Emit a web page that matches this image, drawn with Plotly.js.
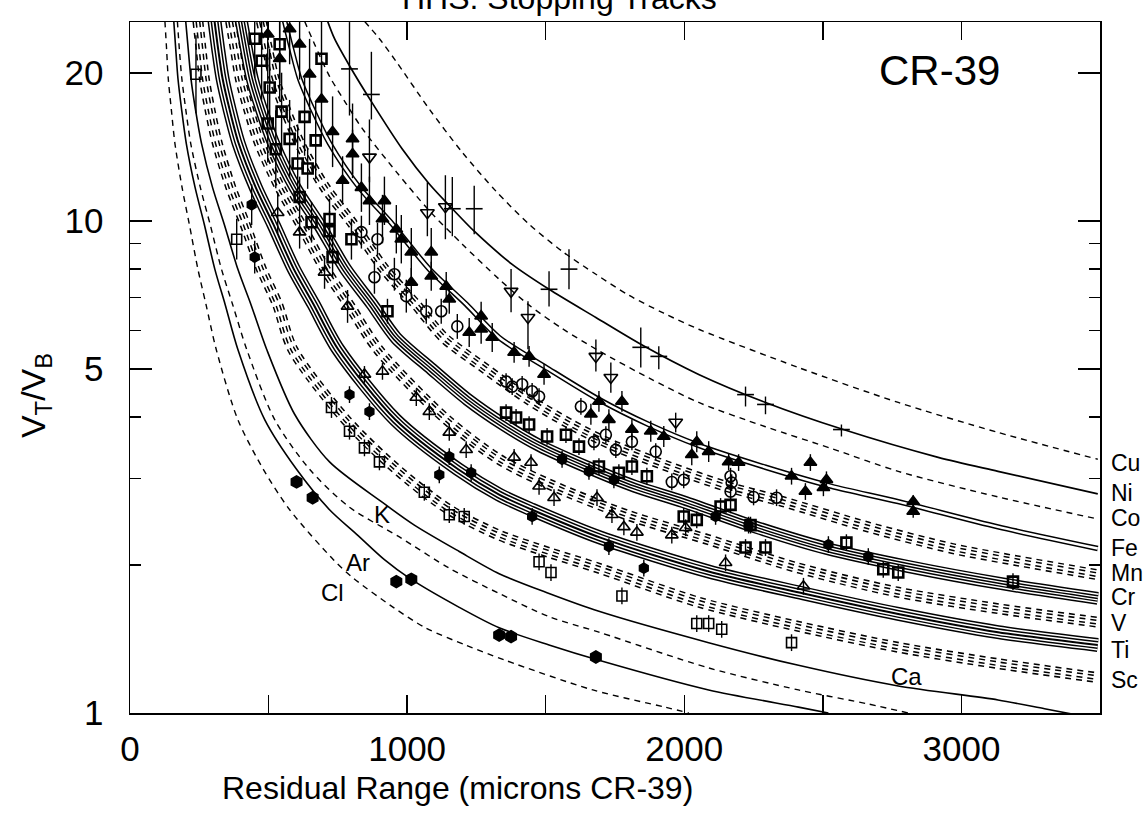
<!DOCTYPE html>
<html>
<head>
<meta charset="utf-8">
<script src="https://cdn.plot.ly/plotly-3.0.1.min.js"></script>
<style>html,body{margin:0;padding:0;background:#fff;}#chart{width:1143px;height:813px;}</style>
</head>
<body>
<div id="chart"></div>
<script>
// ---------------- model curves (Residual range in microns, VT/VB) ----------------
const clX = [126,132,138,149,162,188,214,245,274,311,389,481,576,734,806,950,1066,1210,1354,1670,1930,2016];
const clY = [25.5,22.4,19.5,16.9,14.4,11.7,9.86,7.99,6.78,5.49,3.95,3.13,2.59,2.05,1.88,1.64,1.49,1.375,1.28,1.114,1.028,1.0];
const arX = [158,165,173,186,203,235,268,306,343,389,486,601,720,821,918,1008,1188,1332,1512,1692,2088,2412,2520];
const arY = [25.5,22.4,19.5,16.9,14.4,11.7,9.86,7.99,6.78,5.49,3.95,3.13,2.59,2.30,2.05,1.88,1.64,1.49,1.375,1.28,1.114,1.028,1.0];
const kX = [171,178,187,201,219,254,289,330,370,421,522,648,792,972,1152,1332,1512,1692,2088,2412,2664,2808];
const kY = [25.5,22.4,19.5,16.9,14.4,11.7,9.86,7.99,6.78,5.49,3.95,3.13,2.62,2.28,1.97,1.75,1.57,1.46,1.235,1.114,1.043,1.0];
const caX = [201,210,220,236,258,298,340,389,436,493,594,720,911,1026,1188,1332,1512,1692,2088,2412,2772,3132,3300,3420];
const caY = [25.5,22.4,19.5,16.9,14.4,11.7,9.86,7.99,6.78,5.49,4.05,3.24,2.68,2.41,2.13,1.92,1.75,1.61,1.39,1.25,1.135,1.063,1.02,0.99];
const scX = [245,256,268,288,315,364,415,474,532,587,778,962,1152,1332,1512,1692,2052,2412,2772,3132,3492];
const scY = [25.5,22.4,19.5,16.9,14.4,11.7,9.86,7.99,6.78,5.49,3.95,3.13,2.59,2.30,2.12,1.97,1.68,1.50,1.36,1.26,1.18];
const tiX = [305,318,334,359,392,454,517,591,662,751,957,1184,1332,1451,1700,2088,2430,2772,3132,3492];
const tiY = [25.5,22.4,19.5,16.9,14.4,11.7,9.86,7.99,6.78,5.49,3.95,3.13,2.78,2.59,2.27,1.94,1.75,1.59,1.46,1.375];
const vX = [363,380,398,428,467,541,616,704,789,895,1142,1332,1512,1800,2088,2400,2772,3132,3492];
const vY = [25.5,22.4,19.5,16.9,14.4,11.7,9.86,7.99,6.78,5.49,3.95,3.28,2.92,2.52,2.25,1.98,1.76,1.63,1.53];
const crX = [402,420,441,474,518,596,682,778,873,959,1089,1218,1348,1477,1651,1822,1996,2255,2514,2800,3150,3492];
const crY = [25.5,22.4,19.5,16.9,14.4,11.7,9.86,7.99,6.78,5.80,5.00,4.34,3.86,3.50,3.16,2.89,2.69,2.39,2.16,1.99,1.83,1.71];
const mnX = [474,496,520,560,612,704,805,918,1031,1132,1285,1438,1591,1744,1949,2151,2356,2662,2968,3200,3492];
const mnY = [25.5,22.4,19.5,16.9,14.4,11.7,9.86,7.99,6.78,5.80,5.00,4.34,3.86,3.50,3.16,2.89,2.69,2.39,2.16,2.04,1.91];
const feX = [558,583,612,659,720,828,947,1080,1213,1332,1512,1692,1872,2052,2293,2531,2772,3132,3492];
const feY = [25.5,22.4,19.5,16.9,14.4,11.7,9.86,7.99,6.78,5.80,5.00,4.34,3.86,3.50,3.16,2.89,2.69,2.39,2.16];
const coX = [630,666,720,781,839,961,1080,1199,1332,1440,1559,1692,1872,2052,2293,2531,2772,3132,3492];
const coY = [25.5,22.9,19.7,17.3,15.4,12.6,10.5,8.98,7.62,6.75,6.05,5.45,4.80,4.28,3.82,3.45,3.10,2.75,2.48];
const niX = [713,738,792,871,983,1080,1163,1242,1379,1512,1681,1843,2052,2293,2574,2916,3132,3492];
const niY = [25.5,23.5,20.7,17.5,14.0,11.9,10.6,9.54,8.17,7.27,6.37,5.62,4.88,4.28,3.77,3.31,3.10,2.79];
const cuX = [846,900,961,1080,1199,1321,1440,1559,1681,1800,1926,2052,2412,2772,3132,3492];
const cuY = [25.5,23.5,21.1,16.9,13.8,11.5,9.86,8.69,7.80,7.07,6.50,6.03,5.04,4.28,3.72,3.28];

// ---------------- measured tracks ----------------
// "+" markers
const plusX = [792,871,1163,1242,1512,1584,1843,1908,2221,2293,2567];
const plusY = [20.4,18.1,10.6,10.6,7.27,7.99,5.54,5.31,4.44,4.24,3.77];
const plusHi = [25.4,22.1,12.3,11.8,7.91,8.77,6.08,5.57,4.61,4.40,3.86];
const plusLo = [16.4,16.1,9.32,9.41,6.71,7.27,5.04,5.00,4.20,4.05,3.65];
// open inverted triangles
const tdX = [864,1073,1138,1375,1436,1681,1735,1969];
const tdY = [13.5,10.4,10.7,7.20,6.37,5.31,4.81,3.90];
const tdHi = [16.1,12.0,12.4,7.99,6.87,5.75,5.16,4.08];
const tdLo = [12.0,9.32,9.19,6.53,5.49,4.95,4.48,3.72];
// filled triangles
const ftX = [497,540,576,612,648,691,731,803,803,767,835,864,918,911,961,979,1015,1015,1087,1087,1141,1152,1224,1267,1267,1307,1386,1440,1494,1663,1692,1728,1775,1811,1879,1926,2027,2045,2088,2160,2196,2387,2437,2455,2502,2513,2826,2826];
const ftY = [24.0,21.4,24.6,22.9,19.9,17.7,15.2,14.7,13.7,12.1,11.7,11.0,11.0,10.1,9.63,9.19,8.65,7.51,8.65,7.73,7.37,6.94,5.94,6.41,6.03,5.80,5.41,5.31,4.88,4.05,4.30,3.95,4.30,3.77,3.74,3.65,3.35,3.56,3.40,3.24,3.23,3.03,2.82,3.23,2.87,2.98,2.69,2.57];
const ftErr = [0.25,0.22,0.18,0.18,0.18,0.18,0.18,0.18,0.12,0.12,0.12,0.12,0.12,0.12,0.12,0.12,0.12,0.07,0.12,0.07,0.07,0.07,0.07,0.07,0.07,0.07,0.05,0.05,0.05,0.05,0.05,0.05,0.05,0.05,0.05,0.05,0.05,0.05,0.05,0.04,0.04,0.04,0.04,0.04,0.04,0.04,0.03,0.03];
// open circles
const ocX = [835,893,882,954,997,1069,1123,1181,1357,1379,1415,1451,1476,1627,1674,1717,1753,1811,1897,1955,1998,2167,2171,2167,2250,2333];
const ocY = [9.50,9.19,7.69,7.80,7.04,6.56,6.56,6.11,4.72,4.61,4.66,4.51,4.40,4.20,3.56,3.68,3.43,3.56,3.40,2.95,2.98,3.03,2.94,2.82,2.75,2.74];
const ocErr = [0.08,0.08,0.08,0.08,0.08,0.06,0.06,0.06,0.04,0.04,0.04,0.04,0.04,0.04,0.04,0.04,0.04,0.04,0.04,0.04,0.04,0.04,0.04,0.04,0.04,0.04];
// half-filled squares
const hsX = [450,475,504,547,576,605,497,526,630,670,691,540,641,612,655,720,720,799,731,929,1357,1393,1440,1505,1573,1620,1692,1764,1811,1865,1998,2045,2131,2167,2239,2221,2293,2585,2718,2772,3186];
const hsY = [23.5,21.2,18.7,16.7,14.7,13.1,15.8,14.0,16.3,14.6,21.4,22.9,12.8,11.2,9.95,10.1,9.54,9.19,8.45,6.56,4.08,3.99,3.86,3.65,3.68,3.48,3.17,3.08,3.17,3.03,2.51,2.47,2.63,2.65,2.41,2.17,2.17,2.22,1.96,1.93,1.85];
const hsErr = [0.2,0.2,0.2,0.2,0.2,0.2,0.2,0.2,0.2,0.2,0.2,0.2,0.1,0.1,0.1,0.1,0.1,0.1,0.1,0.06,0.04,0.04,0.04,0.04,0.04,0.04,0.04,0.04,0.04,0.04,0.04,0.04,0.04,0.04,0.04,0.04,0.04,0.04,0.04,0.04,0.04];
// open triangles
const otX = [533,612,702,785,846,911,1033,1080,1152,1213,1386,1447,1476,1530,1685,1739,1782,1829,1955,2005,2149,2430];
const otY = [10.4,9.50,7.87,6.71,4.88,4.95,4.38,4.10,3.72,3.43,3.31,3.23,2.89,2.74,2.74,2.53,2.39,2.33,2.30,2.38,2.02,1.81];
const otErr = [0.1,0.08,0.08,0.08,0.04,0.04,0.04,0.04,0.04,0.04,0.04,0.04,0.04,0.04,0.04,0.04,0.04,0.04,0.04,0.04,0.04,0.04];
// open squares
const osX = [238,385,727,792,846,900,1062,1152,1206,1476,1519,1775,2045,2088,2135,2387];
const osY = [19.9,9.19,4.18,3.74,3.46,3.24,2.81,2.53,2.51,2.03,1.93,1.73,1.52,1.52,1.48,1.39];
const osErr = [0.2,0.1,0.05,0.04,0.04,0.04,0.04,0.04,0.04,0.04,0.04,0.04,0.04,0.04,0.04,0.04];
// filled hexagons (low charge)
const fhX = [601,659,961,1015,1332,1375,1681];
const fhY = [2.95,2.74,1.85,1.87,1.44,1.43,1.30];
// filled circles
const fcX = [439,450,792,864,1116,1152,1231,1451,1728,1854,1559,1656,1746,2113,2232,2520,2664];
const fcY = [10.8,8.45,4.44,4.10,3.05,3.32,3.08,2.51,2.18,1.97,3.28,3.10,2.98,2.51,2.41,2.20,2.08];
const fcErr = [0.1,0.08,0.04,0.04,0.04,0.04,0.04,0.04,0.04,0.04,0.04,0.04,0.04,0.04,0.04,0.04,0.04];

// ---------------- labels ----------------
const elemLabels = ['Cu','Ni','Co','Fe','Mn','Cr','V','Ti','Sc'];
const elemLabelLogY = [0.509,0.448,0.397,0.336,0.285,0.236,0.183,0.128,0.067];
const innerLabels = ['K','Ar','Cl','Ca'];
const innerLabelX = [911,821,731,2801];
const innerLabelLogY = [0.403,0.3055,0.2444,0.0733];
const xTickVals = [0,1000,2000,3000];
const xTickText = ['0','1000','2000','3000'];
const xMinorVals = [500,1500,2500,3500];
const yTickVals = [1,5,10,20];
const yTickText = ['1','5','10','20'];
const yMinorVals = [2,3,4,6,7,8,9];

// ---------------- drawing ----------------
const FONT = "'Liberation Sans Narrow','Liberation Sans',Arial,sans-serif";
const FONT2 = "'Liberation Sans',Arial,sans-serif";
const traces = [];
const DASH = '6px,5px';

function line(x, y, dashed, width, color) {
  traces.push({x: x, y: y, type: 'scatter', mode: 'lines', hoverinfo: 'skip', showlegend: false,
    line: {color: color || 'black', width: width, dash: dashed ? DASH : 'solid', shape: 'spline', smoothing: 0.8}});
}
function bundle(x, y, dashed, widths) {
  widths.forEach((w, i) => {
    const black = (i % 2 === 0);
    line(x, y, black ? dashed : false, w, black ? 'black' : 'white');
  });
}
line(clX, clY, true, 1.4);
line(arX, arY, false, 1.6);
line(kX, kY, true, 1.4);
line(caX, caY, false, 1.6);
bundle(scX, scY, true, [11, 8, 5, 2]);
bundle(tiX, tiY, false, [14, 11, 8, 5, 2]);
bundle(vX, vY, true, [11, 8, 5, 2]);
bundle(crX, crY, false, [13, 10, 7, 4, 1.5]);
bundle(mnX, mnY, true, [11, 8, 5, 2]);
bundle(feX, feY, false, [5.5, 2.5]);
line(coX, coY, true, 1.4);
line(niX, niY, false, 1.7);
line(cuX, cuY, true, 1.4);

function pts(x, y, symbol, size, plus, minus, lw) {
  const t = {x: x, y: y, type: 'scatter', mode: 'markers', hoverinfo: 'skip', showlegend: false, cliponaxis: true,
    marker: {symbol: symbol, size: size, color: 'black', line: {color: 'black', width: lw || 1.6}}};
  if (plus) {
    t.error_y = {type: 'data', symmetric: false, array: plus, arrayminus: minus, thickness: 1.4, width: 0, color: 'black'};
  }
  traces.push(t);
}
function relPlus(y, e) { return y.map((v, i) => v * e[i]); }
function relMinus(y, e) { return y.map((v, i) => v - v / (1 + e[i])); }

pts(hsX, hsY, 'square-open', 10, relPlus(hsY, hsErr), relMinus(hsY, hsErr), 2.6);
pts(ocX, ocY, 'circle-open', 11, relPlus(ocY, ocErr), relMinus(ocY, ocErr), 1.6);
pts(otX, otY, 'triangle-up-open', 11, relPlus(otY, otErr), relMinus(otY, otErr), 1.6);
pts(osX, osY, 'square-open', 10, relPlus(osY, osErr), relMinus(osY, osErr), 1.6);
pts(fcX, fcY, 'hexagon', 10, relPlus(fcY, fcErr), relMinus(fcY, fcErr));
pts(fhX, fhY, 'hexagon', 12, null, null);
pts(ftX, ftY, 'triangle-up', 11, relPlus(ftY, ftErr), relMinus(ftY, ftErr));
pts(tdX, tdY, 'triangle-down-open', 12, tdHi.map((v, i) => v - tdY[i]), tdLo.map((v, i) => tdY[i] - v), 1.6);
pts(plusX, plusY, 'line-ew', 12, plusHi.map((v, i) => v - plusY[i]), plusLo.map((v, i) => plusY[i] - v), 1.6);

const annotations = [];
elemLabels.forEach((t, i) => annotations.push({text: t, xref: 'paper', x: 1.009, xanchor: 'left', yref: 'y', y: elemLabelLogY[i],
  yanchor: 'middle', showarrow: false, font: {family: FONT2, size: 23, color: 'black'}}));
innerLabels.forEach((t, i) => annotations.push({text: t, xref: 'x', x: innerLabelX[i], xanchor: 'center', yref: 'y', y: innerLabelLogY[i],
  yanchor: 'middle', showarrow: false, font: {family: FONT2, size: 24, color: 'black'}}));
annotations.push({text: 'CR-39', xref: 'paper', x: 0.835, xanchor: 'center', yref: 'paper', y: 0.93, yanchor: 'middle',
  showarrow: false, font: {family: FONT2, size: 42, color: 'black'}});
annotations.push({text: 'HHS: Stopping Tracks', xref: 'paper', x: 0.443, xanchor: 'center', yref: 'paper', y: 1.006, yanchor: 'bottom',
  showarrow: false, font: {family: FONT2, size: 32, color: 'black'}});
annotations.push({text: 'Residual Range (microns CR-39)', xref: 'paper', x: 0.338, xanchor: 'center', yref: 'paper', y: -0.109, yanchor: 'middle',
  showarrow: false, font: {family: FONT2, size: 32, color: 'black'}});
annotations.push({text: 'V<sub>T</sub>/V<sub>B</sub>', xref: 'paper', x: -0.098, xanchor: 'center', yref: 'paper', y: 0.46, yanchor: 'middle',
  textangle: -90, showarrow: false, font: {family: FONT2, size: 34, color: 'black'}});

const layout = {
  width: 1143, height: 813,
  margin: {l: 130, r: 43, t: 22, b: 100},
  paper_bgcolor: 'white', plot_bgcolor: 'white',
  showlegend: false,
  xaxis: {range: [0, 3500], showgrid: false, zeroline: false, showline: true, linecolor: 'black', linewidth: 1.5, mirror: 'ticks',
    ticks: 'inside', ticklen: 18, tickwidth: 1.5, tickcolor: 'black', tickmode: 'array', tickvals: xTickVals, ticktext: xTickText,
    tickfont: {family: FONT, size: 35, color: 'black'}, ticklabelstandoff: 4,
    minor: {tickmode: 'array', tickvals: xMinorVals, ticks: 'inside', ticklen: 18, tickwidth: 1.5, tickcolor: 'black', showgrid: false}},
  yaxis: {type: 'log', range: [0, 1.405], showgrid: false, zeroline: false, showline: true, linecolor: 'black', linewidth: 1.5, mirror: 'ticks',
    ticks: 'inside', ticklen: 22, tickwidth: 1.5, tickcolor: 'black', tickmode: 'array', tickvals: yTickVals, ticktext: yTickText,
    tickfont: {family: FONT, size: 35, color: 'black'}, ticklabelstandoff: 18,
    minor: {tickmode: 'array', tickvals: yMinorVals, ticks: 'inside', ticklen: 11, tickwidth: 1.5, tickcolor: 'black', showgrid: false}},
  annotations: annotations
};
Plotly.newPlot('chart', traces, layout, {staticPlot: true, displayModeBar: false});
</script>
</body>
</html>
